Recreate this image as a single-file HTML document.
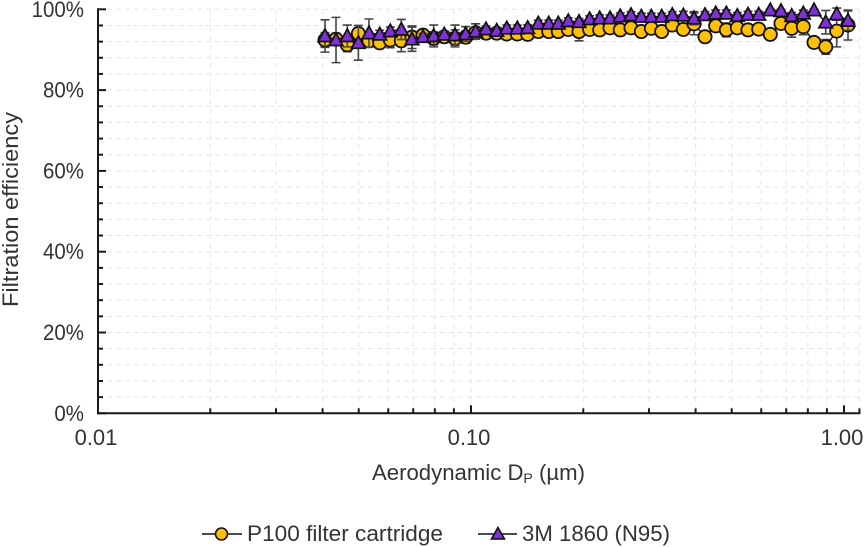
<!DOCTYPE html>
<html>
<head>
<meta charset="utf-8">
<title>Filtration efficiency chart</title>
<style>
html,body{margin:0;padding:0;background:#fff;width:866px;height:547px;overflow:hidden}
svg{display:block}
text{font-family:"Liberation Sans",sans-serif;fill:#333}
</style>
</head>
<body>
<svg id="chart" width="866" height="547" viewBox="0 0 866 547" xmlns="http://www.w3.org/2000/svg">
  <g id="grid"></g>
  <g id="axes"></g>
  <g id="series-p100"></g>
  <g id="series-n95"></g>
  <text transform="translate(18,307) rotate(-90)" font-size="22" textLength="195" lengthAdjust="spacingAndGlyphs">Filtration efficiency</text>
  <text x="372" y="480" font-size="22" textLength="213" lengthAdjust="spacingAndGlyphs">Aerodynamic D<tspan font-size="14" dy="3">P</tspan><tspan dy="-3"> (µm)</tspan></text>
  <g>
    <g>
      <line x1="202" y1="534" x2="242" y2="534" stroke="#111" stroke-width="1.6"></line>
      <circle cx="221.5" cy="534" r="6" fill="#FFC000" stroke="#111" stroke-width="1.6"></circle>
      <text x="247" y="541" font-size="22" textLength="196" lengthAdjust="spacingAndGlyphs">P100 filter cartridge</text>
    </g>
    <g>
      <line x1="478" y1="534" x2="517" y2="534" stroke="#111" stroke-width="1.6"></line>
      <polygon points="498,527.5 504.5,539 491.5,539" fill="#8030D8" stroke="#111" stroke-width="1.6"></polygon>
      <text x="522" y="541" font-size="22" textLength="148" lengthAdjust="spacingAndGlyphs">3M 1860 (N95)</text>
    </g>
  </g>
</svg>
<script>
const sizes = [0.0406,0.04346,0.0466,0.04989,0.05327,0.05693,0.06077,0.06504,0.06947,0.07436,0.07943,0.08479,0.0906,0.09678,0.1029,0.1097,0.1172,0.1247,0.1331,0.1419,0.1515,0.1616,0.1714,0.1823,0.1948,0.208,0.2213,0.2359,0.2513,0.2685,0.2862,0.3044,0.3246,0.3464,0.3709,0.3961,0.424,0.4529,0.4836,0.5176,0.5528,0.5907,0.6344,0.6777,0.7241,0.7778,0.831,0.8932,0.9559,1.025];
const p100Values = [92.4,92.6,91.2,94.0,92.2,91.7,92.4,92.2,93.1,93.6,92.8,93.2,92.8,93.1,94.2,94.1,94.1,93.9,93.9,93.8,94.5,94.5,94.5,95.0,94.5,95.0,94.9,95.4,94.9,95.4,94.5,95.3,94.5,96.1,95.0,96.4,93.2,95.9,94.9,95.4,94.9,95.1,93.8,96.5,95.3,95.7,91.8,90.7,94.6,96.1];
const p100Errors = [1.8,1.5,1.7,1.0,1.5,1.0,1.9,2.7,2.8,1.0,1.6,1.0,2.1,1.5,0.8,0.8,0.8,0.8,0.8,0.8,0.8,0.8,0.8,0.8,2.3,0.8,0.8,0.8,0.8,0.8,0.8,0.8,0.8,0.8,0.8,2.7,0.8,0.8,1.7,0.8,0.8,0.8,0.8,0.8,2.2,2.0,0.8,1.8,3.9,3.7];
const n95Values = [93.4,92.4,93.4,91.7,94.1,93.8,94.6,95.0,92.6,93.2,93.4,93.8,93.6,93.9,94.5,95.1,94.7,95.3,95.3,95.4,96.5,96.5,96.5,97.1,96.9,97.6,97.8,97.8,98.3,98.6,98.2,98.2,98.2,98.6,98.5,97.8,98.6,99.0,99.0,98.4,98.7,98.7,99.8,99.6,98.4,99.0,99.8,96.8,98.8,97.2];
const n95Errors = [4.0,5.6,2.7,4.3,3.5,1.0,1.0,2.5,3.0,0.8,2.7,0.8,2.5,1.8,1.9,0.8,0.8,0.8,0.8,0.8,0.8,0.8,0.8,0.8,0.8,0.8,0.8,0.8,0.8,0.8,0.8,0.8,0.8,0.8,1.0,1.6,0.8,0.8,0.8,0.8,0.8,0.8,0.2,0.4,0.8,0.8,0.2,2.9,1.5,2.4];
const xMajorTicks = [0.01,0.1,1];
const xTickLabels = ["0.01","0.10","1.00"];
const xMinorTicks = [0.02,0.03,0.04,0.05,0.06,0.07,0.08,0.09,0.2,0.3,0.4,0.5,0.6,0.7,0.8,0.9,1.1];
const yMajorTicks = [0,20,40,60,80,100];
const yTickLabels = ["0%","20%","40%","60%","80%","100%"];
const yMinorTicks = [4,8,12,16,24,28,32,36,44,48,52,56,64,68,72,76,84,88,92,96];

const NS = 'http://www.w3.org/2000/svg';
const LEFT = 98, DECADE = 373, BOTTOM = 413.3, TOP = 9.3, XMAX = 1.1;
function xScale(d){ return LEFT + DECADE * (Math.log10(d) + 2); }
function yScale(v){ return BOTTOM - (BOTTOM - TOP) * v / 100; }
function make(tag, attrs, parent){
  const e = document.createElementNS(NS, tag);
  for (const k in attrs) e.setAttribute(k, attrs[k]);
  parent.appendChild(e);
  return e;
}
function condense(t){
  t.setAttribute('textLength', t.getComputedTextLength() * 0.93);
  t.setAttribute('lengthAdjust', 'spacingAndGlyphs');
}
const gridG = document.getElementById('grid');
const axesG = document.getElementById('axes');
const GRID = {stroke:'#e6e6e6','stroke-width':1,'stroke-dasharray':'5 4',fill:'none'};

yMajorTicks.concat(yMinorTicks).forEach(function(v){
  if (v === 0) return;
  const g = make('line', Object.assign({x1:LEFT,x2:xScale(XMAX),y1:yScale(v),y2:yScale(v)}, GRID), gridG);
  
  
});
xMajorTicks.concat(xMinorTicks).forEach(function(d){
  if (d === 0.01) return;
  const g = make('line', Object.assign({x1:xScale(d),x2:xScale(d),y1:TOP,y2:BOTTOM}, GRID), gridG);
  
  
});

const AXIS = {stroke:'#1a1a1a','stroke-width':2,fill:'none'};
const yAxis = make('line', Object.assign({x1:LEFT,x2:LEFT,y1:TOP-1,y2:BOTTOM+1}, AXIS), axesG);


const xAxis = make('line', Object.assign({x1:LEFT-1,x2:xScale(XMAX)+1,y1:BOTTOM,y2:BOTTOM}, AXIS), axesG);



yMajorTicks.forEach(function(v, i){
  const t = make('line', Object.assign({x1:LEFT,x2:LEFT+8,y1:yScale(v),y2:yScale(v)}, AXIS), axesG);
  
  
  const l = make('text', {x:84,y:yScale(v)+7.5,'font-size':22,'text-anchor':'end'}, axesG);
  l.textContent = yTickLabels[i];
  condense(l);
  
  
});
yMinorTicks.forEach(function(v){
  const t = make('line', Object.assign({x1:LEFT,x2:LEFT+5,y1:yScale(v),y2:yScale(v)}, AXIS), axesG);
  
  
});
xMajorTicks.forEach(function(d, i){
  const t = make('line', Object.assign({x1:xScale(d),x2:xScale(d),y1:BOTTOM,y2:BOTTOM-8}, AXIS), axesG);
  
  
  const l = make('text', {x:xScale(d)-2,y:445,'font-size':22,'text-anchor':'middle'}, axesG);
  l.textContent = xTickLabels[i];
  
  
});
xMinorTicks.forEach(function(d){
  const t = make('line', Object.assign({x1:xScale(d),x2:xScale(d),y1:BOTTOM,y2:BOTTOM-5}, AXIS), axesG);
  
  
});

function drawSeries(group, values, errors, drawMarker){
  const ERR = {stroke:'#444','stroke-width':1.6,fill:'none'};
  values.forEach(function(v, i){
    const x = xScale(sizes[i]);
    const hi = yScale(v + errors[i]), lo = yScale(v - errors[i]);
    const b = make('path', Object.assign({d:'M'+(x-4.5)+' '+hi+'H'+(x+4.5)+'M'+x+' '+hi+'V'+lo+'M'+(x-4.5)+' '+lo+'H'+(x+4.5)}, ERR), group);
    
    
  });
  const pts = values.map(function(v, i){ return xScale(sizes[i]) + ',' + yScale(v); }).join(' ');
  const line = make('polyline', {points:pts,fill:'none',stroke:'#111','stroke-width':1.4}, group);
  
  
  values.forEach(function(v, i){ drawMarker(group, xScale(sizes[i]), yScale(v)); });
}

drawSeries(document.getElementById('series-p100'), p100Values, p100Errors, function(g, x, y){
  const c = make('circle', {cx:x,cy:y,r:6.6,fill:'#FFC000',stroke:'#111','stroke-width':1.8}, g);
  
  
});
drawSeries(document.getElementById('series-n95'), n95Values, n95Errors, function(g, x, y){
  const p = make('polygon', {points:x+','+(y-7)+' '+(x+6.8)+','+(y+5.5)+' '+(x-6.8)+','+(y+5.5),fill:'#8030D8',stroke:'#111','stroke-width':1.7}, g);
  
  
});
</script>
</body>
</html>
